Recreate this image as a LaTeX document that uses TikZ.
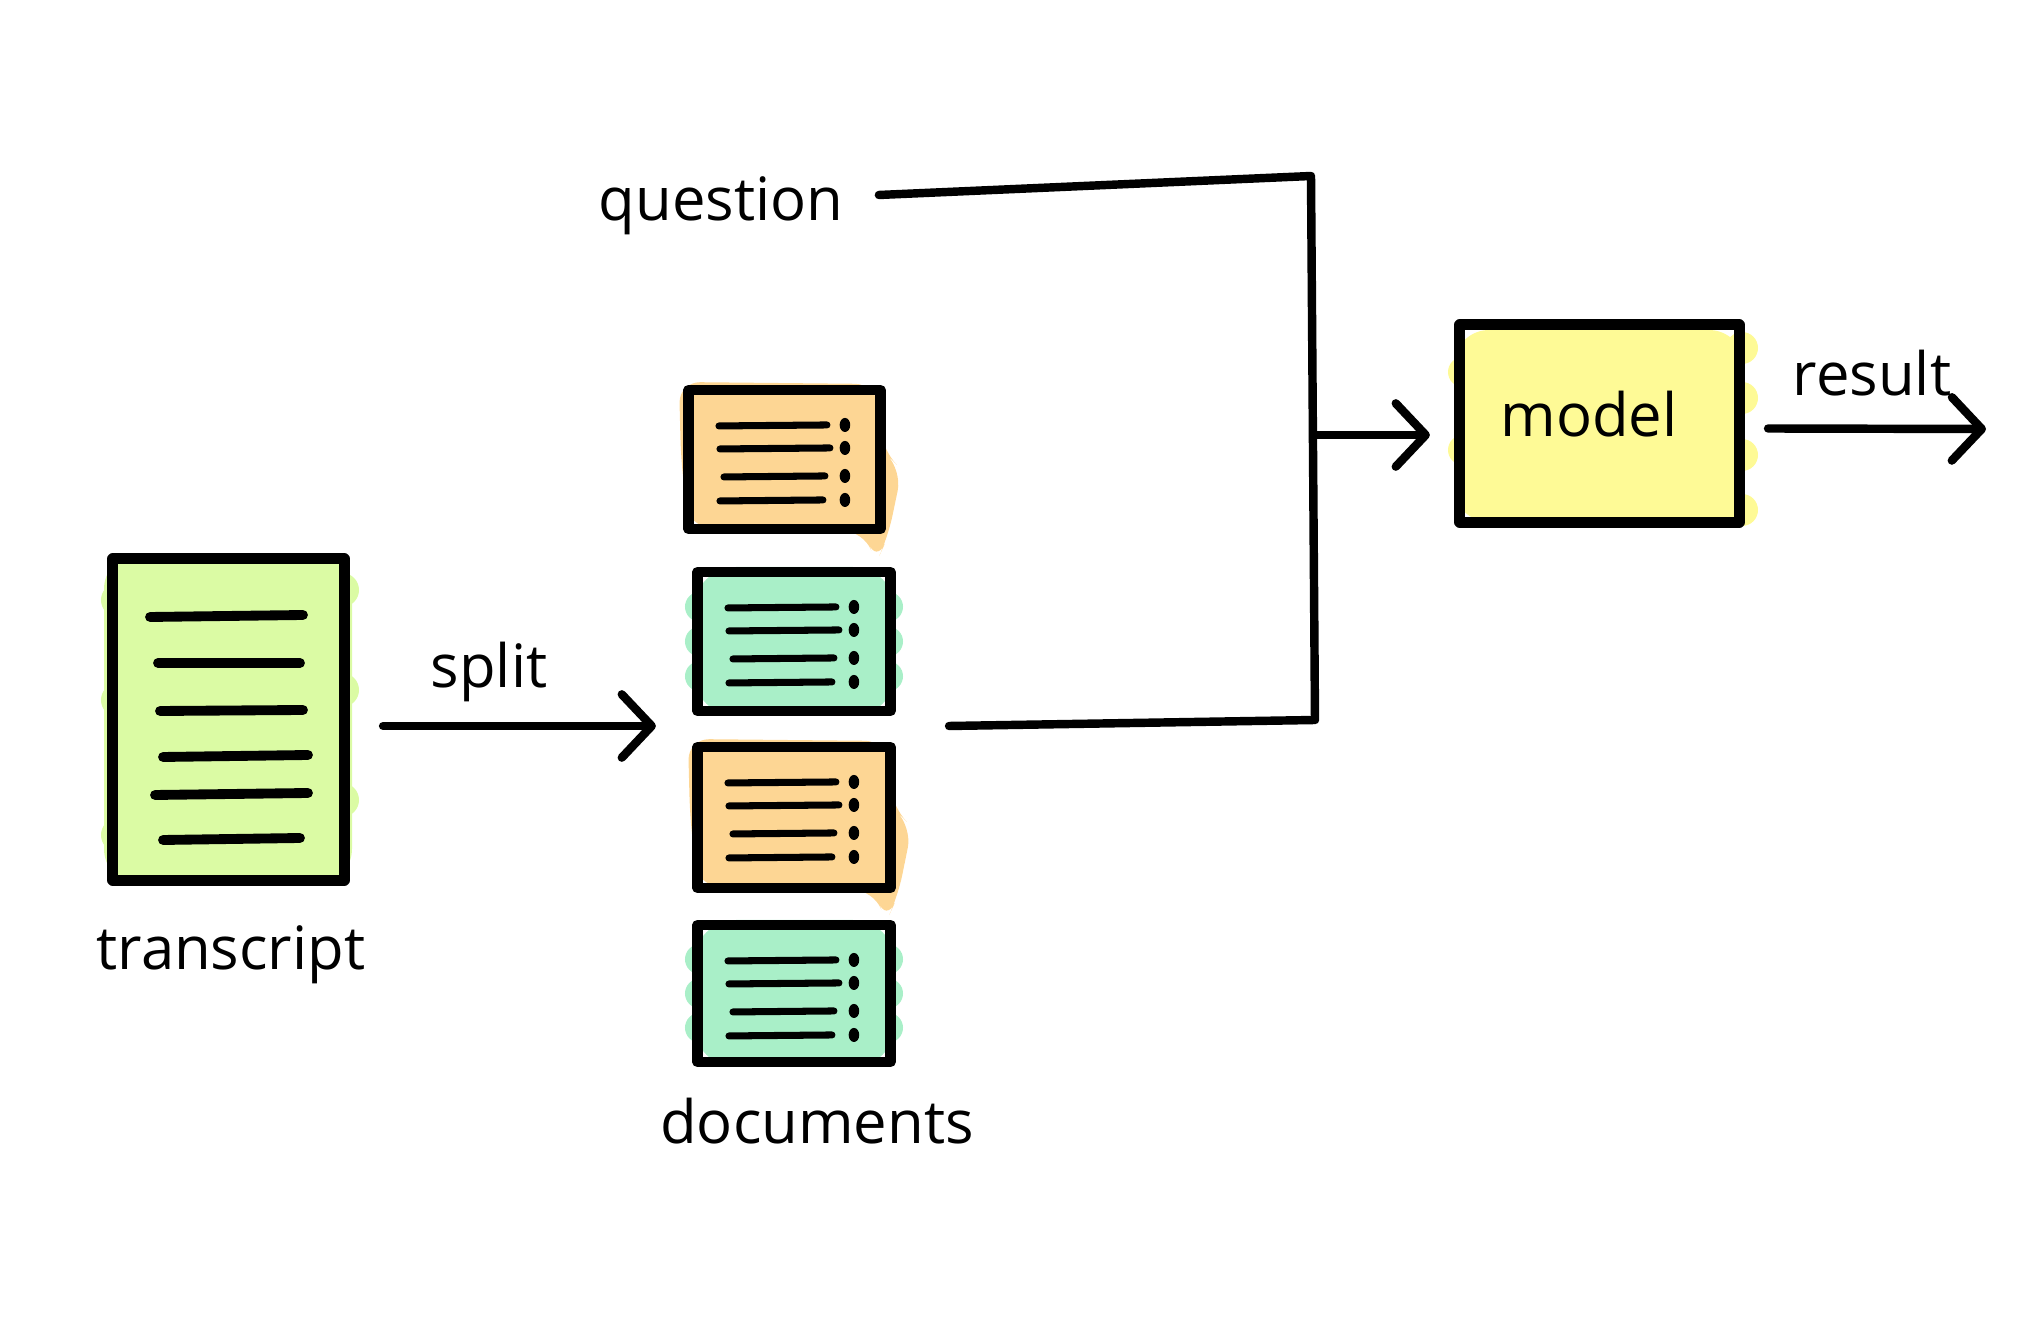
\documentclass[tikz,border=0pt]{standalone}
\usepackage{fontspec}
\setmainfont{Open Sans}
\usetikzlibrary{arrows.meta,calc,fit}
\definecolor{tgreen}{HTML}{DBFBA4}
\definecolor{dorange}{HTML}{FDD694}
\definecolor{dgreen}{HTML}{A9EFC8}
\definecolor{myellow}{HTML}{FEFA96}
\begin{document}
\begin{tikzpicture}[x=0.01cm,y=-0.01cm,
  box/.style={draw=black, line width=3.1pt, line join=round, rectangle, inner sep=0pt, outer sep=0pt},
  tline/.style={line width=2.8pt, line cap=round},
  dline/.style={line width=2.0pt, line cap=round},
  conn/.style={line width=2.4pt, line cap=round, line join=round},
  arr/.style={conn, -{Straight Barb[length=8.5pt,width=18pt,round]}},
  lbl/.style={font=\fontsize{17}{20}\selectfont, inner sep=0pt}]
\useasboundingbox (0,0) rectangle (2038,1325);

% ---- background fills (sketchy colour) ----
% transcript
\fill[tgreen, rounded corners=10] (104,554) rectangle (352,884);
\foreach \yy in {600,700,835} \fill[tgreen] (118,\yy) circle[radius=0.17cm];
\foreach \yy in {590,690,800} \fill[tgreen] (342,\yy) circle[radius=0.17cm];
% orange docs
\foreach \L/\T/\R/\B in {689/390/880/529, 698/747/890/888}{
  \fill[dorange, rounded corners=6] (\L-10,\T-8) -- (\R-4,\T-6) -- (\R+2,\T+60) -- (\R+22,\T+80)
     -- (\R+8,\B+8) -- (\R-4,\B+34) -- (\R-16,\B+2) -- (\L,\B-2) -- (\L-8,\T+70) -- cycle;
}
% green docs
\foreach \L/\T/\R/\B in {698/572/890/711, 698/925/890/1062}{
  \fill[dgreen, rounded corners=12] (\L-4,\T-5) rectangle (\R+5,\B+5);
  \foreach \f in {0.25,0.5,0.75} {
    \fill[dgreen] (\L+2,{\T+\f*(\B-\T)}) circle[radius=0.15cm];
    \fill[dgreen] (\R-2,{\T+\f*(\B-\T)}) circle[radius=0.15cm];
  }
}
% model
\fill[myellow, rounded corners=10] (1454,330) rectangle (1744,522);
\foreach \yy in {348,398,455,510} \fill[myellow] (1742,\yy) circle[radius=0.16cm];
\foreach \yy in {372,450} \fill[myellow] (1463,\yy) circle[radius=0.15cm];

% ---- nodes ----
\node[box, minimum width=2.31cm, minimum height=3.21cm] (t) at (228.5,719.5) {};
\node[box, minimum width=1.91cm, minimum height=1.39cm] (d1) at (784.5,459.5) {};
\node[box, minimum width=1.92cm, minimum height=1.39cm] (d2) at (794,641.5) {};
\node[box, minimum width=1.92cm, minimum height=1.41cm] (d3) at (794,817.5) {};
\node[box, minimum width=1.92cm, minimum height=1.37cm] (d4) at (794,993.5) {};
\node[box, minimum width=2.79cm, minimum height=1.97cm] (m) at (1599.5,423.5) {};
\node[lbl] (ml) at (1589,414) {model};
\node[fit=(d1)(d2)(d3)(d4), inner sep=0pt, outer sep=0pt] (docs) {};

\node[lbl] (tl) at (231,955) {transcript};
\node[lbl] (dl) at (817,1121) {documents};
\node[lbl] (sl) at (489,672) {split};
\node[lbl] (q) at (721,206) {question};
\node[lbl] (rl) at (1872,373) {result};

% ---- transcript lines ----
\draw[tline] (150,617) -- (303,615);
\draw[tline] (158,663) -- (300,663);
\draw[tline] (160,711) -- (303,710);
\draw[tline] (163,757) -- (308,755);
\draw[tline] (155,795) -- (308,793);
\draw[tline] (163,840) -- (300,838);

% ---- document lines ----
\foreach \d in {d1,d2,d3,d4}{
  \begin{scope}[shift={(\d.north west)}]
    \draw[dline] (30,36) -- (138,35);
    \draw[dline] (31,59) -- (141,58);
    \draw[dline] (35,87) -- (136,86);
    \draw[dline] (31,111) -- (134,110);
    \foreach \yy in {35,58,86,110} \fill (156,\yy) ellipse[x radius=1.5pt, y radius=2pt];
  \end{scope}
}

% ---- connectors ----
\coordinate (jt) at (1311,176);
\coordinate (jb) at (1315,720);
\coordinate (jm) at (1317,435);
\coordinate (out) at (1986,429);

\draw[arr, shorten <=0.39cm, shorten >=0.33cm] (t.east |- docs.west) -- (docs.west);
\draw[conn] ([shift={(35,-11)}]q.east) -- (jt) -- (jb) -- ([xshift=0.59cm]docs.east);
\draw[arr, shorten >=0.3cm] (jm) -- (jm -| m.west);
\draw[arr] ([shift={(29,5)}]m.east) -- (out);
\end{tikzpicture}
\end{document}
